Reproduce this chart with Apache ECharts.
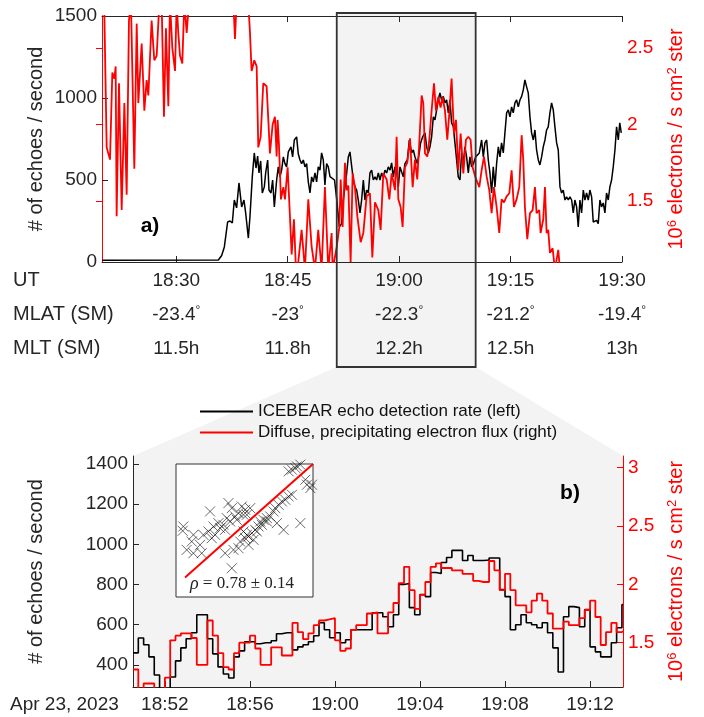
<!DOCTYPE html>
<html><head><meta charset="utf-8">
<script src="https://cdn.jsdelivr.net/npm/echarts@6/dist/echarts.min.js"></script>
<style>html,body{margin:0;padding:0;background:#fff}#c{width:704px;height:717px}</style>
</head><body><div id="c"></div>
<script>
// ---------- DATA ----------
// Panel a): time in minutes after 18:20 UT
const topTickT = [10, 25, 40, 55, 70];
const utLabels = ['18:30', '18:45', '19:00', '19:15', '19:30'];
const mlatLabels = ['-23.4', '-23', '-22.3', '-21.2', '-19.4'];
const mltLabels = ['11.5h', '11.8h', '12.2h', '12.5h', '13h'];
const topLeftTicks = [0, 500, 1000, 1500];
const topRightTicks = [1.5, 2, 2.5];
const boxT = [31.6, 50.3];

const topBlack = [[0,10],[15.66,12],[16.11,40],[16.47,92],[16.91,244],[17.23,250],[17.54,238],[17.81,378],[18.12,330],[18.44,482],[18.8,336],[19.11,378],[19.34,299],[19.7,146],[19.92,278],[20.23,519],[20.5,665],[20.73,573],[20.95,646],[21.13,543],[21.36,616],[21.58,421],[21.85,458],[22.03,543],[22.3,622],[22.48,439],[22.75,421],[22.97,500],[23.2,336],[23.51,500],[23.73,580],[23.96,519],[24.18,560],[24.41,641],[24.63,600],[24.85,580],[25.08,671],[25.44,702],[25.66,641],[25.89,744],[26.2,763],[26.42,660],[26.65,622],[26.87,600],[27.1,622],[27.32,580],[27.55,600],[27.77,488],[28.0,421],[28.22,519],[28.44,488],[28.67,543],[28.89,488],[29.11,580],[29.34,560],[29.56,665],[29.79,622],[30.01,470],[30.24,600],[30.46,580],[30.69,520],[30.91,519],[31.3,500],[31.6,380],[31.95,214],[32.26,234],[32.48,378],[32.84,500],[33.16,641],[33.38,671],[33.61,660],[33.83,500],[34.05,458],[34.28,439],[34.5,378],[34.73,299],[34.95,378],[35.18,500],[35.4,378],[35.62,439],[35.85,421],[36.07,543],[36.3,560],[36.52,500],[36.75,519],[36.97,500],[37.2,543],[37.42,500],[37.64,543],[37.87,519],[38.09,560],[38.32,543],[38.54,580],[38.77,560],[38.99,604],[39.21,519],[39.44,580],[39.66,560],[39.89,458],[40.11,580],[40.34,580],[40.56,519],[40.78,600],[41.1,622],[41.37,744],[41.68,665],[41.91,683],[42.13,641],[42.44,600],[42.71,665],[42.89,726],[43.16,763],[43.48,787],[43.7,702],[43.92,665],[44.15,702],[44.37,763],[44.6,885],[44.82,866],[45.05,927],[45.27,988],[45.49,1031],[45.72,988],[45.94,1010],[46.17,970],[46.39,988],[46.62,909],[46.84,988],[47.06,848],[47.29,827],[47.51,726],[47.74,622],[47.96,519],[48.19,500],[48.41,665],[48.64,604],[48.86,702],[49.08,641],[49.31,543],[49.53,641],[49.76,580],[50.0,600],[50.3,640],[50.79,665],[51.1,744],[51.33,641],[51.55,726],[51.78,744],[52.0,622],[52.22,543],[52.45,421],[52.67,580],[52.9,458],[53.12,600],[53.35,702],[53.57,641],[53.79,726],[54.02,665],[54.24,787],[54.47,909],[54.69,927],[54.92,885],[55.14,946],[55.36,909],[55.59,970],[55.81,988],[56.04,946],[56.26,988],[56.49,1010],[56.71,1049],[56.93,1110],[57.16,1068],[57.38,1031],[57.61,885],[57.83,787],[58.06,744],[58.28,805],[58.5,683],[58.73,622],[58.95,592],[59.18,641],[59.4,702],[59.63,744],[59.85,805],[60.07,824],[60.3,909],[60.52,970],[60.75,927],[60.97,824],[61.2,726],[61.42,683],[61.65,458],[61.87,421],[62.09,439],[62.32,378],[62.54,397],[62.77,378],[62.99,397],[63.22,378],[63.44,299],[63.66,378],[63.89,336],[64.11,214],[64.34,378],[64.56,299],[64.79,439],[65.01,378],[65.23,421],[65.46,378],[65.68,439],[65.91,397],[66.13,244],[66.35,234],[66.58,254],[66.8,234],[67.03,378],[67.25,336],[67.48,360],[67.7,299],[67.92,421],[68.15,378],[68.37,458],[68.6,500],[68.82,580],[69.05,683],[69.27,824],[69.5,744],[69.7,848],[69.9,787]];

const topRed = [[0,2.8],[0.31,2.75],[0.63,1.85],[1.08,1.77],[1.39,2.34],[1.66,2.3],[1.84,2.38],[1.97,1.4],[2.29,2.27],[2.65,1.44],[3.01,2.14],[3.32,1.54],[3.63,2.68],[3.9,2.8],[4.35,1.71],[4.67,2.66],[4.89,2.14],[5.34,2.53],[5.7,2.09],[6.01,2.29],[6.24,2.19],[6.68,2.68],[7.04,2.42],[7.36,2.45],[7.67,2.75],[8.03,2.8],[8.34,2.05],[8.61,2.63],[8.93,2.12],[9.15,2.8],[9.47,2.5],[9.83,2.35],[10.05,2.8],[10.27,2.6],[10.5,2.45],[10.81,2.4],[11.08,2.8],[11.4,2.6],[11.71,2.8],[14.5,2.9],[17.68,2.8],[17.9,2.56],[18.12,2.8],[19.69,2.8],[19.92,2.6],[20.14,2.35],[20.5,2.42],[20.82,2.38],[21.04,1.85],[21.36,1.92],[21.71,2.27],[22.16,2.25],[22.39,2.03],[22.61,1.81],[22.97,2.0],[23.28,2.05],[23.51,1.79],[23.64,2.03],[23.82,1.87],[24.09,1.51],[24.41,1.59],[24.63,1.51],[24.99,1.72],[25.3,1.4],[25.53,1.15],[25.84,1.38],[26.11,1.05],[26.42,1.1],[26.87,1.31],[27.32,1.05],[27.77,1.51],[28.22,1.2],[28.67,1.05],[29.11,1.31],[29.56,1.05],[30.01,1.59],[30.46,1.05],[30.91,1.29],[31.05,1.05],[31.6,1.2],[31.95,1.33],[32.13,1.64],[32.39,1.33],[32.71,1.75],[32.93,1.57],[33.16,1.6],[33.47,1.1],[33.74,1.68],[34.05,1.59],[34.37,1.4],[34.82,1.23],[35.18,1.29],[35.62,1.53],[36.07,1.55],[36.39,1.13],[36.75,1.49],[37.2,1.44],[37.51,1.31],[37.87,1.68],[38.32,1.64],[38.68,1.51],[38.99,1.68],[39.44,1.57],[39.66,1.92],[39.89,1.51],[40.2,1.46],[40.47,1.33],[40.78,1.72],[41.1,1.75],[41.46,1.91],[41.82,1.59],[42.13,1.77],[42.44,1.64],[42.71,1.88],[43.03,2.19],[43.25,2.14],[43.48,1.81],[43.79,1.79],[44.06,1.9],[44.37,2.09],[44.69,2.27],[44.96,2.09],[45.27,2.18],[45.58,2.11],[45.85,2.18],[46.17,2.09],[46.48,1.9],[46.75,2.07],[47.06,2.3],[47.38,1.94],[47.65,2.03],[47.96,1.7],[48.28,1.94],[48.64,1.68],[48.99,1.9],[49.31,1.92],[49.62,1.9],[49.89,1.72],[50.3,1.65],[50.79,1.59],[51.1,1.7],[51.42,1.79],[51.78,1.66],[52.13,1.57],[52.45,1.42],[52.76,1.59],[53.12,1.46],[53.48,1.29],[53.79,1.51],[54.11,1.49],[54.47,1.53],[54.83,1.55],[55.14,1.7],[55.45,1.46],[55.81,1.51],[56.17,1.59],[56.49,1.93],[56.71,1.77],[56.93,1.46],[57.25,1.25],[57.61,1.42],[57.97,1.44],[58.28,1.59],[58.5,1.42],[58.86,1.44],[59.04,1.29],[59.4,1.38],[59.63,1.59],[59.85,1.29],[60.07,1.31],[60.3,1.16],[60.66,1.19],[60.97,1.05],[61.42,1.18],[61.65,1.05],[62.09,1.0]];

// Panel b): 15-s bins, time in minutes after 18:50 UT, first bin starts 18:50:30
const botStart = 0.5, botStep = 0.25, botEnd = 23.55;
const botTickT = [2, 6, 10, 14, 18, 22];
const botLabels = ['18:52', '18:56', '19:00', '19:04', '19:08', '19:12'];
const botLeftTicks = [400, 600, 800, 1000, 1200, 1400];
const botRightTicks = [1.5, 2, 2.5, 3];
const botBlack = [460,534,500,440,350,270,270,340,420,485,530,560,650,650,530,455,390,355,335,440,470,515,515,505,510,510,520,555,560,560,475,490,500,515,545,610,575,535,560,510,525,575,575,575,575,660,660,640,590,650,800,805,685,650,750,740,860,855,910,935,970,970,920,945,920,920,922,932,932,775,740,575,600,650,610,600,585,610,560,485,365,640,690,685,590,675,490,465,440,440,510,585,700];
const botRed = [1.27,1.05,1.15,1.15,1.05,1.05,1.20,1.52,1.56,1.58,1.58,1.54,1.31,1.31,1.69,1.56,1.41,1.29,1.27,1.41,1.50,1.50,1.56,1.45,1.31,1.31,1.46,1.46,1.39,1.39,1.67,1.59,1.53,1.58,1.65,1.69,1.70,1.71,1.52,1.43,1.45,1.61,1.65,1.65,1.75,1.76,1.58,1.58,1.76,1.84,2.01,2.15,1.95,1.79,1.91,2.02,2.15,2.18,2.14,2.14,2.12,2.12,2.09,2.09,2.03,2.02,2.02,2.20,2.12,1.95,2.09,1.95,1.82,1.82,1.76,1.86,1.92,1.86,1.75,1.62,1.62,1.68,1.65,1.65,1.71,1.78,1.86,1.72,1.48,1.59,1.67,1.59,1.60];

// Inset scatter (normalised inset units)
const insetPts = [[70,215],[68,228],[95,260],[80,285],[100,240],[150,170],[130,240],[145,230],[160,215],[175,205],[190,210],[205,145],[210,200],[215,160],[225,185],[235,175],[245,155],[255,165],[260,180],[270,160],[180,220],[195,225],[165,240],[125,295],[100,295],[120,270],[155,250],[200,190],[230,195],[250,180],[385,50],[395,45],[405,40],[410,35],[420,30],
[215,340],[195,295],[220,285],[240,260],[255,250],[265,245],[275,235],[285,225],[295,215],[300,200],[310,195],[320,190],[330,185],[340,170],[345,160],[355,150],[365,140],[375,135],[385,125],[395,120],[290,230],[305,210],[260,240],[350,205],[370,225],[420,205],[435,75],[440,90],[450,100],[455,90],[265,270],[280,255],[320,200],[235,280],[250,230]];
const insetFit = [[75,368],[458,28]];

// ---------- CHART ----------
const FONT = 'Liberation Sans, Arial, Helvetica, sans-serif';
const AX = '#262626', RED = '#ff0000', GREY = '#f3f3f3';
const lab = (vals, labels) => v => { const i = vals.findIndex(x => Math.abs(x - v) < 1e-6); return i < 0 ? '' : labels[i]; };
const plain = v => String(v);

const botBlackData = botBlack.map((v, i) => [botStart + i * botStep, v]);
botBlackData.push([botEnd, botBlack[botBlack.length - 1]]);
const botRedData = botRed.map((v, i) => [botStart + i * botStep, v]);
botRedData.push([botEnd, botRed[botRed.length - 1]]);

const chart = echarts.init(document.getElementById('c'), null, {renderer: 'canvas'});
const baseX = (grid, min, max) => ({gridIndex: grid, type: 'value', min, max, splitLine: {show: false}});

chart.setOption({
  animation: false,
  textStyle: {fontFamily: FONT},
  grid: [
    {left: 102, top: 16, width: 520, height: 246, outerBoundsMode: 'none'},
    {left: 133, top: 456, width: 490, height: 231, show: true, backgroundColor: GREY, borderWidth: 0, outerBoundsMode: 'none'},
    {left: 176, top: 464, width: 137, height: 133, show: true, backgroundColor: '#fff', borderColor: '#333', borderWidth: 1, z: 3, outerBoundsMode: 'none'}
  ],
  legend: {
    data: ['ICEBEAR echo detection rate (left)', 'Diffuse, precipitating electron flux (right)'],
    orient: 'vertical', left: 195, top: 398, itemWidth: 53, itemHeight: 2, itemGap: 4, icon: 'rect',
    selectedMode: false, textStyle: {fontSize: 17, color: '#111', fontFamily: FONT}
  },
  xAxis: [
    Object.assign(baseX(0, 0, 70), {position: 'bottom',
      axisLine: {lineStyle: {color: AX, width: 1}},
      axisTick: {inside: true, length: 6, customValues: topTickT, lineStyle: {color: AX}},
      axisLabel: {customValues: topTickT, formatter: lab(topTickT, utLabels), fontSize: 19, color: AX, margin: 9, fontFamily: FONT}}),
    Object.assign(baseX(0, 0, 70), {position: 'bottom', offset: 34,
      axisLine: {show: false}, axisTick: {show: false},
      axisLabel: {customValues: topTickT, formatter: v => lab(topTickT, mlatLabels)(v) + '{d|°}', fontSize: 19, color: AX, margin: 9, fontFamily: FONT,
        rich: {d: {fontSize: 12, verticalAlign: 'top', color: AX, fontFamily: FONT}}}}),
    Object.assign(baseX(0, 0, 70), {position: 'bottom', offset: 68,
      axisLine: {show: false}, axisTick: {show: false},
      axisLabel: {customValues: topTickT, formatter: lab(topTickT, mltLabels), fontSize: 19, color: AX, margin: 9, fontFamily: FONT}}),
    Object.assign(baseX(0, 0, 70), {position: 'top',
      axisLine: {lineStyle: {color: AX, width: 1}},
      axisTick: {inside: true, length: 6, customValues: topTickT, lineStyle: {color: AX}},
      axisLabel: {show: false}}),
    Object.assign(baseX(1, botStart, botEnd), {position: 'bottom',
      axisLine: {lineStyle: {color: AX, width: 1}},
      axisTick: {inside: true, length: 6, customValues: botTickT, lineStyle: {color: AX}},
      axisLabel: {customValues: botTickT, formatter: lab(botTickT, botLabels), fontSize: 19, color: AX, margin: 8, fontFamily: FONT}}),
    Object.assign(baseX(2, 48, 458), {show: false})
  ],
  yAxis: [
    {gridIndex: 0, type: 'value', min: 0, max: 1500, position: 'left', splitLine: {show: false},
      axisLine: {show: true, lineStyle: {color: AX}},
      axisTick: {show: true, inside: true, length: 6, customValues: topLeftTicks, lineStyle: {color: AX}},
      axisLabel: {customValues: topLeftTicks, formatter: plain, fontSize: 19, color: AX, margin: 5, fontFamily: FONT},
      name: '# of echoes / second', nameLocation: 'middle', nameRotate: 90, nameGap: 56, nameMoveOverlap: false,
      nameTextStyle: {fontSize: 20, color: AX, fontFamily: FONT}},
    {gridIndex: 0, type: 'value', min: 1.1, max: 2.71, position: 'right', splitLine: {show: false},
      axisLine: {show: true, lineStyle: {color: RED}},
      axisTick: {show: true, inside: true, length: 6, customValues: topRightTicks, lineStyle: {color: RED}},
      axisLabel: {customValues: topRightTicks, formatter: plain, fontSize: 19, color: RED, margin: 5, fontFamily: FONT},
      name: '10{s|6} electrons / s cm{s|2} ster', nameLocation: 'middle', nameRotate: 90, nameGap: 44, nameMoveOverlap: false,
      nameTextStyle: {fontSize: 20, color: RED, fontFamily: FONT, rich: {s: {fontSize: 13, verticalAlign: 'top', color: RED, fontFamily: FONT}}}},
    {gridIndex: 1, type: 'value', min: 290, max: 1440, position: 'left', splitLine: {show: false},
      axisLine: {show: true, lineStyle: {color: AX}},
      axisTick: {show: true, inside: true, length: 6, customValues: botLeftTicks, lineStyle: {color: AX}},
      axisLabel: {customValues: botLeftTicks, formatter: plain, fontSize: 19, color: AX, margin: 5, fontFamily: FONT},
      name: '# of echoes / second', nameLocation: 'middle', nameRotate: 90, nameGap: 87, nameMoveOverlap: false,
      nameTextStyle: {fontSize: 20, color: AX, fontFamily: FONT}},
    {gridIndex: 1, type: 'value', min: 1.12, max: 3.1, position: 'right', splitLine: {show: false},
      axisLine: {show: true, lineStyle: {color: RED}},
      axisTick: {show: true, inside: true, length: 6, customValues: botRightTicks, lineStyle: {color: RED}},
      axisLabel: {customValues: botRightTicks, formatter: plain, fontSize: 19, color: RED, margin: 5, fontFamily: FONT},
      name: '10{s|6} electrons / s cm{s|2} ster', nameLocation: 'middle', nameRotate: 90, nameGap: 43, nameMoveOverlap: false,
      nameTextStyle: {fontSize: 20, color: RED, fontFamily: FONT, rich: {s: {fontSize: 13, verticalAlign: 'top', color: RED, fontFamily: FONT}}}},
    {gridIndex: 2, type: 'value', min: 28, max: 426, inverse: true, show: false, splitLine: {show: false}}
  ],
  series: [
    {name: 'topBlack', type: 'line', xAxisIndex: 0, yAxisIndex: 0, data: topBlack, symbol: 'none', clip: true, z: 3,
      lineStyle: {color: '#000', width: 1.5}},
    {name: 'topRed', type: 'line', xAxisIndex: 0, yAxisIndex: 1, data: topRed, symbol: 'none', clip: true, z: 4,
      lineStyle: {color: RED, width: 1.8}},
    {name: 'ICEBEAR echo detection rate (left)', type: 'line', step: 'end', xAxisIndex: 4, yAxisIndex: 2, data: botBlackData,
      symbol: 'none', clip: true, z: 3, itemStyle: {color: '#000'}, lineStyle: {color: '#000', width: 1.6}},
    {name: 'Diffuse, precipitating electron flux (right)', type: 'line', step: 'end', xAxisIndex: 4, yAxisIndex: 3, data: botRedData,
      symbol: 'none', clip: true, z: 4, itemStyle: {color: RED}, lineStyle: {color: RED, width: 1.8}},
    {name: 'insetPts', type: 'scatter', xAxisIndex: 5, yAxisIndex: 4, data: insetPts, z: 6,
      symbol: 'path://M0,0L10,10M10,0L0,10', symbolSize: 10,
      itemStyle: {color: 'rgba(0,0,0,0)', borderColor: '#111', borderWidth: 0.8}},
    {name: 'insetFit', type: 'line', xAxisIndex: 5, yAxisIndex: 4, data: insetFit, symbol: 'none', z: 7, clip: true,
      lineStyle: {color: RED, width: 2}}
  ]
});

// Annotation geometry derived from the axes
const px = (q, v) => chart.convertToPixel(q, v);
const bx0 = px({xAxisIndex: 0}, boxT[0]), bx1 = px({xAxisIndex: 0}, boxT[1]);
const boxTop = px({yAxisIndex: 0}, 1500) - 3, boxBot = 367;
const bl = px({xAxisIndex: 4}, botStart), br = px({xAxisIndex: 4}, botEnd), bt = px({yAxisIndex: 2}, 1440);
const txt = (x, y, text, o) => Object.assign({type: 'text', x, y, silent: true, z: 20,
  style: Object.assign({text, fill: AX, fontSize: 20, fontFamily: FONT, align: 'left', verticalAlign: 'middle'}, o || {})});

chart.setOption({
  graphic: [
    {type: 'polygon', silent: true, z: -10, shape: {points: [[bx0, boxBot], [bx1, boxBot], [br, bt], [bl, bt]]}, style: {fill: GREY}},
    {type: 'rect', silent: true, z: -10, shape: {x: bx0, y: boxTop, width: bx1 - bx0, height: boxBot - boxTop}, style: {fill: GREY}},
    {type: 'rect', silent: true, z: 50, shape: {x: bx0, y: boxTop, width: bx1 - bx0, height: boxBot - boxTop}, style: {fill: 'none', stroke: '#333', lineWidth: 1.8}},
    txt(13, 280, 'UT'),
    txt(13, 314, 'MLAT (SM)'),
    txt(13, 348, 'MLT (SM)'),
    txt(10, 705, 'Apr 23, 2023', {fontSize: 19}),
    txt(150, 226, 'a)', {fontWeight: 'bold', fontSize: 21, align: 'center', fill: '#000'}),
    txt(570, 493, 'b)', {fontWeight: 'bold', fontSize: 21, align: 'center', fill: '#000'}),
    txt(242, 584, '{i|ρ} = 0.78 ± 0.14', {align: 'center', fontSize: 17, fontFamily: 'Liberation Serif, DejaVu Serif, serif', fill: '#222',
      rich: {i: {fontStyle: 'italic', fontSize: 18, fontFamily: 'Liberation Serif, DejaVu Serif, serif', fill: '#222'}}})
  ]
});
</script></body></html>
